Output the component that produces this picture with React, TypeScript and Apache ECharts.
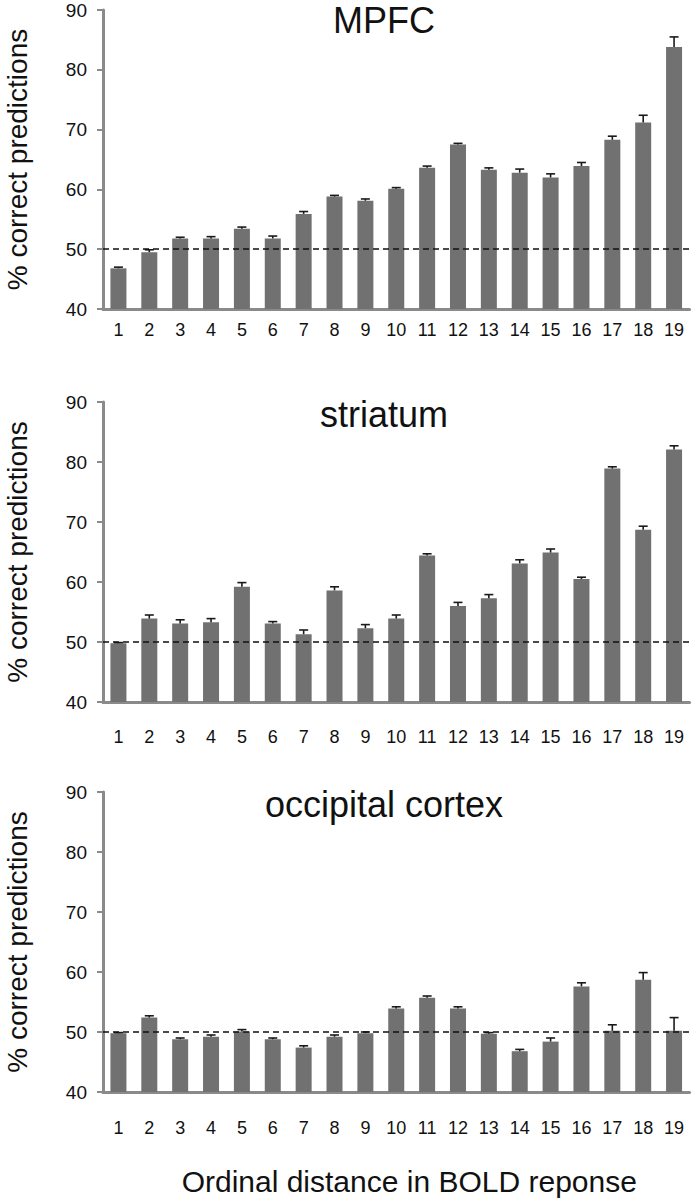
import React, { useEffect, useRef } from "react";
import * as echarts from "echarts";

const categories = ["1", "2", "3", "4", "5", "6", "7", "8", "9", "10", "11", "12", "13", "14", "15", "16", "17", "18", "19"];

const panelTitles = ["MPFC", "striatum", "occipital cortex"];

const mpfcValues = [46.8, 49.5, 51.8, 51.8, 53.4, 51.8, 55.9, 58.8, 58.1, 60.1, 63.6, 67.5, 63.3, 62.8, 62.0, 63.9, 68.3, 71.2, 83.8];
const mpfcErrors = [0.2, 0.4, 0.2, 0.3, 0.3, 0.4, 0.4, 0.2, 0.3, 0.2, 0.3, 0.2, 0.3, 0.6, 0.6, 0.6, 0.6, 1.2, 1.7];

const striatumValues = [49.8, 53.9, 53.1, 53.3, 59.2, 53.1, 51.3, 58.6, 52.3, 53.9, 64.4, 56.0, 57.3, 63.1, 64.9, 60.5, 78.9, 68.7, 82.1];
const striatumErrors = [0.1, 0.6, 0.6, 0.6, 0.7, 0.3, 0.7, 0.6, 0.6, 0.6, 0.3, 0.6, 0.6, 0.6, 0.6, 0.3, 0.3, 0.6, 0.6];

const occipitalValues = [49.8, 52.4, 48.8, 49.2, 50.1, 48.8, 47.4, 49.2, 49.8, 53.9, 55.7, 53.9, 49.7, 46.8, 48.4, 57.6, 50.2, 58.7, 50.2];
const occipitalErrors = [0.1, 0.3, 0.2, 0.3, 0.3, 0.2, 0.3, 0.3, 0.2, 0.3, 0.3, 0.3, 0.2, 0.3, 0.6, 0.6, 1.0, 1.2, 2.2];

const yTicks = { min: 40, max: 90, interval: 10 };
const chanceLevel = 50;
const yAxisName = "% correct predictions";
const xAxisName = "Ordinal distance in BOLD reponse";

const FONT = "Liberation Sans";
const AXIS_COLOR = "#8a8a8a";
const BAR_COLOR = "#717171";
const TEXT_COLOR = "#111111";

export default function App() {
  const ref = useRef<HTMLDivElement>(null);

  useEffect(() => {
    if (!ref.current) return;
    const chart = echarts.init(ref.current, undefined, { renderer: "svg" });

    const panels = [
      { values: mpfcValues, errors: mpfcErrors, top: 10, height: 299, labelMargin: 12, titleTop: -3 },
      { values: striatumValues, errors: striatumErrors, top: 402, height: 300, labelMargin: 26, titleTop: 391 },
      { values: occipitalValues, errors: occipitalErrors, top: 792, height: 300, labelMargin: 27, titleTop: 781 },
    ];

    const grid = panels.map((p) => ({
      left: 103,
      right: 3.5,
      top: p.top,
      height: p.height,
      containLabel: false,
      outerBoundsMode: "none",
    }));

    const xAxis = panels.map((p, i) => ({
      type: "category",
      gridIndex: i,
      data: categories,
      axisLine: { show: true, lineStyle: { color: AXIS_COLOR, width: 3 } },
      axisTick: { show: false },
      axisLabel: { interval: 0, fontSize: 18, color: TEXT_COLOR, margin: p.labelMargin, fontFamily: FONT },
      name: i === 2 ? xAxisName : "",
      nameLocation: "middle",
      nameGap: 74,
      nameTextStyle: { fontSize: 30, color: TEXT_COLOR, fontFamily: FONT, padding: [0, 0, 0, 26] },
    }));

    const yAxis = panels.map((p, i) => ({
      type: "value",
      gridIndex: i,
      min: yTicks.min,
      max: yTicks.max,
      interval: yTicks.interval,
      axisLine: { show: true, lineStyle: { color: AXIS_COLOR, width: 3 } },
      axisTick: { show: true, inside: false, length: 6, lineStyle: { color: AXIS_COLOR, width: 2 } },
      splitLine: { show: false },
      axisLabel: { fontSize: 19, color: TEXT_COLOR, margin: 16, fontFamily: FONT },
      name: yAxisName,
      nameLocation: "middle",
      nameRotate: 90,
      nameGap: 72,
      nameTextStyle: { fontSize: 28, color: TEXT_COLOR, fontFamily: FONT },
    }));

    const series: any[] = [];
    panels.forEach((p, i) => {
      series.push({
        type: "bar",
        xAxisIndex: i,
        yAxisIndex: i,
        data: p.values,
        barWidth: 16,
        itemStyle: { color: BAR_COLOR },
        z: 2,
        markLine: {
          silent: true,
          symbol: ["none", "none"],
          label: { show: false },
          lineStyle: { color: "#111", type: [6, 4], width: 1.5 },
          data: [{ yAxis: chanceLevel }],
          z: 5,
        },
      });
      series.push({
        type: "custom",
        xAxisIndex: i,
        yAxisIndex: i,
        z: 3,
        data: p.values.map((v, k) => [k, v, v + p.errors[k]]),
        encode: { x: 0, y: [1, 2] },
        renderItem: (params: any, api: any) => {
          const x = api.value(0);
          const base = api.coord([x, api.value(1)]);
          const top = api.coord([x, api.value(2)]);
          const style = { stroke: "#1a1a1a", lineWidth: 1.6 };
          return {
            type: "group",
            children: [
              { type: "line", shape: { x1: base[0], y1: base[1], x2: base[0], y2: top[1] }, style },
              { type: "line", shape: { x1: base[0] - 4.5, y1: top[1], x2: base[0] + 4.5, y2: top[1] }, style },
            ],
          };
        },
      });
    });

    const title = panels.map((p, i) => ({
      text: panelTitles[i],
      left: 379,
      top: p.titleTop,
      textAlign: "center",
      textStyle: { fontSize: 36, fontWeight: "normal", color: TEXT_COLOR, fontFamily: FONT },
    }));

    chart.setOption({
      animation: false,
      backgroundColor: "#ffffff",
      textStyle: { fontFamily: FONT },
      title,
      grid,
      xAxis,
      yAxis,
      series,
    } as any);

    return () => chart.dispose();
  }, []);

  return (
    <div
      ref={ref}
      style={{ position: "fixed", left: 0, top: 0, width: 693, height: 1199, background: "#fff" }}
    />
  );
}
